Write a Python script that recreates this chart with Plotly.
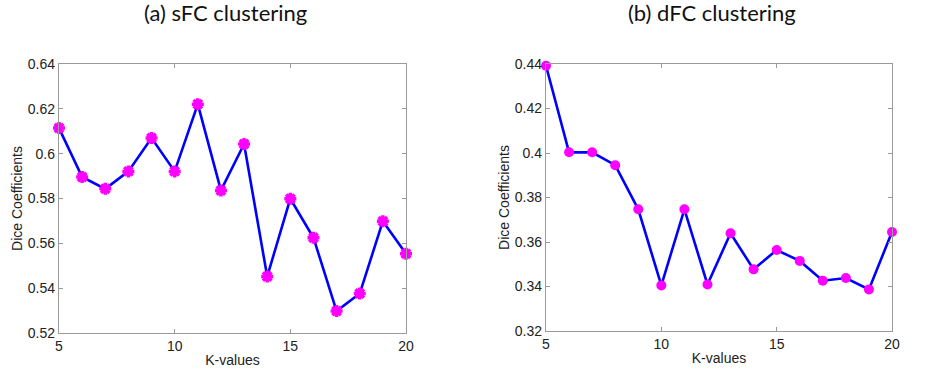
import plotly.graph_objects as go

k_values = list(range(5, 21))
sfc_dice = [0.6114, 0.5896, 0.5843, 0.5921, 0.6070, 0.5921, 0.6221, 0.5836,
            0.6043, 0.5452, 0.5799, 0.5625, 0.5298, 0.5376, 0.5699, 0.5554]
dfc_dice = [0.4392, 0.4003, 0.4003, 0.3945, 0.3747, 0.3405, 0.3747, 0.3409,
            0.3639, 0.3477, 0.3564, 0.3515, 0.3426, 0.3438, 0.3387, 0.3645]

x_ticks = [5, 10, 15, 20]
sfc_yticks = [0.52, 0.54, 0.56, 0.58, 0.60, 0.62, 0.64]
sfc_yticklabels = ["0.52", "0.54", "0.56", "0.58", "0.6", "0.62", "0.64"]
dfc_yticks = [0.32, 0.34, 0.36, 0.38, 0.40, 0.42, 0.44]
dfc_yticklabels = ["0.32", "0.34", "0.36", "0.38", "0.4", "0.42", "0.44"]

titles = ["(a) sFC clustering", "(b) dFC clustering"]

W, H = 935, 370
fig = go.Figure()

fig.add_trace(go.Scatter(
    x=k_values, y=sfc_dice, mode="lines+markers", xaxis="x", yaxis="y",
    line=dict(color="#0000FF", width=2.6),
    marker=dict(symbol="asterisk-open", size=10, color="#FF00FF",
                line=dict(color="#FF00FF", width=3.5)),
    showlegend=False, cliponaxis=False))
fig.add_trace(go.Scatter(
    x=k_values, y=dfc_dice, mode="lines+markers", xaxis="x2", yaxis="y2",
    line=dict(color="#0000FF", width=2.6),
    marker=dict(symbol="circle", size=10, color="#FF00FF"),
    showlegend=False, cliponaxis=False))

label_font = dict(family="Liberation Sans, Arial", size=14, color="#222222")

axis_common = dict(
    showgrid=False, zeroline=False, showline=True, linecolor="#9a9a9a",
    linewidth=1.4, mirror="ticks", ticks="inside", ticklen=4, tickcolor="#9a9a9a",
    tickfont=dict(family="Liberation Sans, Arial", size=14, color="#222222"),
    automargin=False,
)

def px_x(p):
    return p / W

def px_y(p):
    return 1 - p / H

fig.update_layout(
    width=W, height=H, margin=dict(l=0, r=0, t=0, b=0, autoexpand=False),
    paper_bgcolor="white", plot_bgcolor="white",
    xaxis=dict(domain=[px_x(59), px_x(406)], range=[5, 20], tickvals=x_ticks,
               anchor="y", title=dict(text="K-values", standoff=2, font=label_font),
               **axis_common),
    yaxis=dict(domain=[px_y(333), px_y(64)], range=[0.52, 0.64],
               tickvals=sfc_yticks, ticktext=sfc_yticklabels, anchor="x",
               title=dict(text="Dice Coefficients", standoff=1, font=label_font),
               **axis_common),
    xaxis2=dict(domain=[px_x(546), px_x(892)], range=[5, 20], tickvals=x_ticks,
                anchor="y2", title=dict(text="K-values", standoff=2, font=label_font),
                **axis_common),
    yaxis2=dict(domain=[px_y(331), px_y(64)], range=[0.32, 0.44],
                tickvals=dfc_yticks, ticktext=dfc_yticklabels, anchor="x2",
                title=dict(text="Dice Coefficients", standoff=1, font=label_font),
                **axis_common),
)

for title, cx in zip(titles, [225, 712]):
    fig.add_annotation(text=title, x=px_x(cx), y=px_y(13), xref="paper", yref="paper",
                       showarrow=False, xanchor="center", yanchor="middle",
                       font=dict(family="Lato, Open Sans", size=22, color="#111111"))

fig.write_html("out.html", config={"displayModeBar": False},
               post_script="document.body.style.margin='0';")
